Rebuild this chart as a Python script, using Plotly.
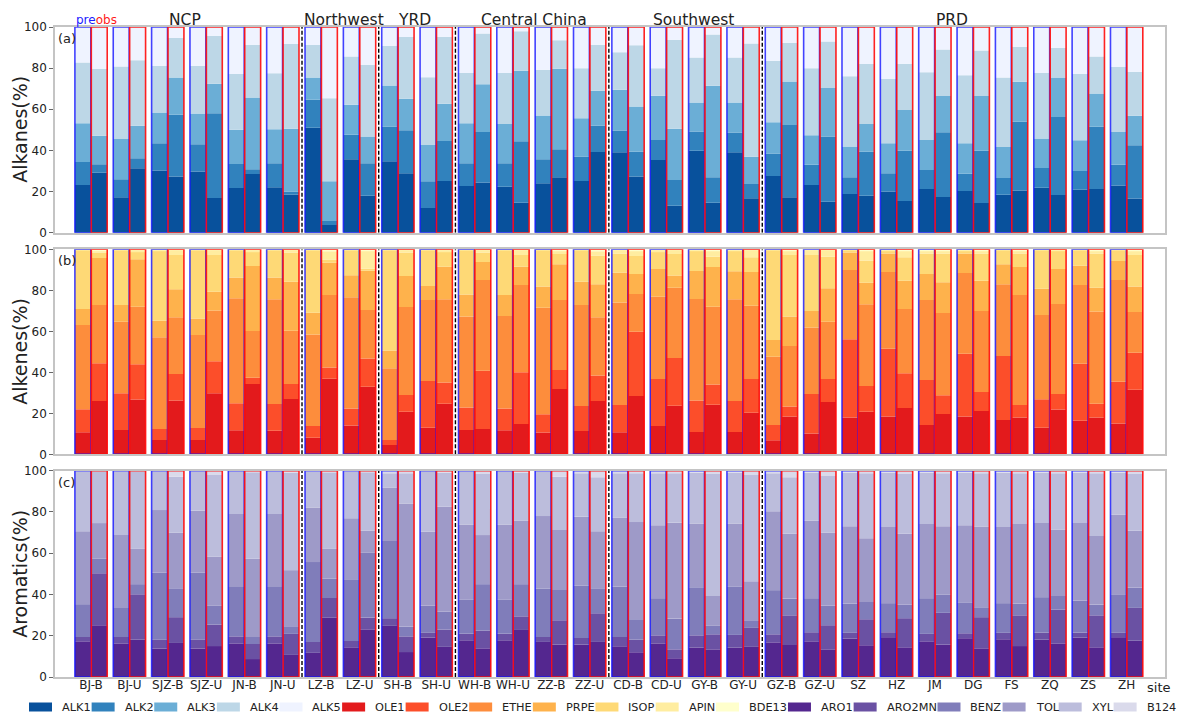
import plotly.graph_objects as go

# ---------------- data ----------------
sites = ["BJ-B", "BJ-U", "SJZ-B", "SJZ-U", "JN-B", "JN-U", "LZ-B", "LZ-U", "SH-B", "SH-U",
         "WH-B", "WH-U", "ZZ-B", "ZZ-U", "CD-B", "CD-U", "GY-B", "GY-U", "GZ-B", "GZ-U",
         "SZ", "HZ", "JM", "DG", "FS", "ZQ", "ZS", "ZH"]
regions = ["NCP", "Northwest", "YRD", "Central China", "Southwest", "PRD"]
region_center = [2.45, 6.6, 8.43, 11.55, 15.7, 22.45]
region_breaks = [5.5, 7.5, 9.5, 13.5, 17.5]

alk_names = ["ALK1", "ALK2", "ALK3", "ALK4", "ALK5"]
ole_names = ["OLE1", "OLE2", "ETHE", "PRPE", "ISOP", "APIN", "BDE13"]
aro_names = ["ARO1", "ARO2MN", "BENZ", "TOL", "XYL", "B124"]

# cumulative upper edge (%) of each species in the stacked bars; the last species fills to 100
# ---- Alkanes, pre
ALK1_pre = [23.2, 17.2, 30.2, 29.7, 21.8, 22.1, 51.0, 35.7, 34.7, 12.0, 22.7, 22.4, 24.0, 25.2,
            39.1, 35.4, 39.8, 39.1, 27.6, 23.2, 18.8, 20.0, 21.3, 20.3, 18.5, 21.9, 20.9, 22.9]
ALK2_pre = [34.4, 26.0, 43.5, 43.0, 33.4, 33.8, 64.6, 47.6, 51.6, 25.0, 33.8, 33.8, 35.7, 37.0,
            49.7, 45.1, 49.2, 48.7, 38.5, 33.0, 27.0, 28.9, 30.5, 28.7, 26.6, 31.5, 30.0, 33.0]
ALK3_pre = [53.2, 45.5, 58.4, 58.0, 50.0, 50.3, 75.5, 62.2, 71.6, 42.7, 53.2, 52.9, 57.0, 55.7,
            69.5, 66.6, 63.3, 63.3, 53.7, 47.4, 41.9, 43.5, 45.1, 43.5, 41.7, 45.8, 45.0, 49.0]
ALK4_pre = [82.8, 80.8, 81.2, 81.2, 77.2, 77.5, 91.2, 85.6, 90.9, 75.6, 77.6, 77.6, 79.2, 80.0,
            87.7, 80.0, 85.2, 85.2, 83.6, 79.9, 76.0, 74.8, 78.0, 76.5, 75.5, 77.6, 77.3, 80.5]
# ---- Alkanes, obs
ALK1_obs = [29.2, 31.3, 27.3, 16.9, 28.6, 18.5, 3.7, 18.0, 28.9, 25.2, 24.4, 14.6, 27.0, 39.3,
            27.3, 13.1, 14.6, 16.7, 17.2, 15.1, 18.0, 15.4, 17.4, 14.4, 20.5, 18.3, 21.3, 16.6]
ALK2_obs = [33.3, 36.2, 57.3, 58.1, 30.8, 20.0, 5.7, 33.8, 49.8, 44.6, 49.0, 44.5, 40.6, 52.0,
            39.4, 25.6, 27.0, 23.7, 52.4, 46.8, 39.4, 39.8, 48.9, 39.9, 53.9, 56.3, 51.5, 42.5]
ALK3_obs = [47.1, 52.0, 75.5, 72.4, 65.7, 50.6, 25.0, 46.8, 65.1, 62.7, 72.2, 78.7, 79.7, 69.0,
            61.4, 50.6, 71.4, 36.9, 73.5, 70.3, 52.9, 59.7, 66.4, 66.4, 73.4, 75.5, 67.7, 56.8]
ALK4_obs = [79.7, 83.8, 94.6, 95.8, 91.4, 91.7, 65.4, 81.6, 95.1, 95.3, 96.9, 97.9, 93.5, 91.4,
            91.1, 93.8, 96.3, 92.0, 92.3, 93.0, 82.0, 82.1, 89.1, 88.6, 90.4, 89.9, 85.6, 78.2]

# ---- Alkenes, pre
OLE1_pre = [10.7, 11.9, 7.0, 7.0, 11.7, 11.5, 8.1, 14.1, 4.6, 13.0, 11.9, 11.7, 10.6, 11.4,
            10.7, 13.8, 10.9, 10.9, 6.8, 10.1, 18.0, 18.4, 14.3, 18.4, 16.7, 13.0, 16.4, 15.0]
OLE2_pre = [22.0, 29.8, 12.4, 12.8, 24.9, 24.6, 13.8, 22.4, 7.0, 35.8, 22.8, 22.4, 19.5, 23.6,
            24.1, 36.7, 26.3, 26.0, 14.3, 29.4, 56.1, 51.5, 36.3, 49.0, 48.0, 26.8, 44.2, 35.4]
ETHE_pre = [63.1, 64.7, 57.1, 58.2, 76.1, 75.6, 58.5, 76.6, 42.0, 75.3, 67.2, 67.5, 71.5, 72.8,
            74.0, 76.9, 75.8, 75.6, 47.6, 61.8, 89.9, 88.9, 75.3, 88.5, 82.9, 68.0, 82.6, 85.0]
PRPE_pre = [70.9, 72.8, 65.2, 66.3, 86.3, 86.2, 69.1, 87.3, 50.6, 82.1, 78.0, 77.7, 81.8, 84.2,
            88.6, 90.4, 89.4, 89.3, 55.8, 69.9, 98.4, 98.0, 88.0, 98.0, 92.7, 80.8, 92.0, 94.3]
ISOP_pre = [99.6, 99.7, 99.5, 99.6, 99.7, 99.7, 99.7, 99.7, 99.7, 99.7, 99.7, 99.7, 99.7, 99.7,
            98.0, 98.9, 99.3, 99.3, 99.7, 97.2, 99.7, 99.3, 98.0, 99.3, 99.7, 99.7, 99.7, 99.7]
APIN_pre = [99.9, 99.9, 99.9, 99.9, 99.9, 99.9, 99.9, 99.9, 99.9, 99.9, 99.9, 99.9, 99.9, 99.9,
            99.6, 99.7, 99.8, 99.8, 99.9, 99.7, 99.9, 99.8, 99.5, 99.8, 99.9, 99.9, 99.9, 99.9]
# ---- Alkenes, obs
OLE1_obs = [26.0, 26.7, 26.3, 29.8, 34.3, 27.0, 36.9, 33.0, 20.8, 24.7, 12.4, 14.8, 31.9, 26.0,
            28.5, 23.7, 24.2, 20.3, 18.4, 25.5, 20.7, 22.6, 19.7, 21.1, 18.0, 21.8, 17.9, 31.5]
OLE2_obs = [44.4, 43.9, 39.2, 45.4, 37.4, 34.3, 42.3, 46.7, 28.9, 35.0, 40.7, 40.0, 41.1, 38.5,
            59.8, 47.0, 34.0, 36.7, 23.3, 36.7, 33.3, 39.5, 28.8, 30.4, 24.1, 29.4, 24.7, 49.6]
ETHE_obs = [72.8, 72.0, 66.8, 70.1, 60.2, 60.3, 77.7, 70.4, 71.9, 75.6, 85.0, 82.6, 75.3, 66.8,
            78.2, 81.3, 72.0, 72.5, 52.8, 64.6, 73.2, 70.9, 68.9, 69.9, 77.7, 73.3, 69.6, 69.4]
PRPE_obs = [95.8, 95.1, 80.5, 79.3, 91.9, 84.2, 93.5, 89.5, 87.0, 91.5, 93.8, 91.5, 92.7, 83.0,
            88.0, 87.2, 91.4, 88.9, 67.2, 81.0, 83.7, 84.6, 83.9, 84.7, 91.4, 90.4, 81.3, 81.8]
ISOP_obs = [98.4, 98.9, 97.2, 97.2, 98.9, 98.5, 95.0, 90.5, 98.5, 98.9, 98.4, 97.2, 97.7, 97.0,
            96.7, 97.7, 96.4, 96.1, 97.2, 96.4, 94.5, 96.1, 98.0, 98.0, 98.0, 99.3, 98.0, 97.2]
APIN_obs = [99.5, 99.7, 99.7, 99.7, 99.7, 99.6, 99.0, 99.5, 99.7, 99.7, 99.7, 99.7, 99.5, 99.0,
            99.5, 99.6, 99.5, 99.6, 99.5, 99.6, 99.5, 99.5, 99.5, 99.5, 99.5, 99.7, 99.5, 99.5]

# ---- Aromatics, pre
ARO1_pre = [17.3, 16.3, 13.8, 13.8, 16.3, 16.3, 11.7, 14.4, 24.8, 19.1, 17.8, 17.8, 17.0, 15.7,
            14.9, 16.3, 14.2, 14.2, 16.8, 17.3, 18.6, 19.3, 17.3, 18.8, 18.3, 18.1, 19.1, 19.3]
ARO2MN_pre = [19.4, 19.4, 18.1, 18.1, 19.7, 19.7, 17.0, 17.5, 28.5, 21.4, 21.0, 21.0, 19.4, 18.9,
              19.4, 20.2, 20.2, 20.4, 20.7, 21.7, 21.4, 21.7, 20.9, 21.2, 21.4, 21.5, 21.5, 21.4]
BENZ_pre = [35.3, 33.5, 50.5, 50.5, 44.0, 44.0, 55.7, 47.4, 65.9, 34.5, 37.5, 37.5, 42.9, 44.2,
            43.7, 38.2, 43.5, 43.9, 42.1, 38.2, 35.6, 35.8, 38.2, 36.2, 35.8, 38.7, 36.9, 40.1]
TOL_pre = [70.7, 68.8, 80.9, 80.6, 79.0, 79.0, 82.2, 77.0, 91.9, 70.4, 73.9, 73.9, 78.0, 77.7,
           77.3, 73.5, 74.4, 74.4, 80.3, 75.9, 73.1, 72.7, 74.1, 73.6, 72.7, 74.6, 74.6, 78.8]
XYL_pre = [99.8, 99.8, 99.8, 99.8, 99.8, 99.8, 99.6, 99.6, 98.7, 99.8, 99.8, 99.8, 99.6, 98.7,
           98.7, 98.7, 99.0, 99.0, 98.7, 99.0, 99.0, 99.0, 99.0, 99.0, 99.0, 99.0, 99.0, 99.0]
# ---- Aromatics, obs
ARO1_obs = [25.1, 18.1, 16.5, 15.0, 8.7, 10.7, 28.8, 23.1, 12.1, 14.6, 13.9, 22.8, 15.7, 17.0,
            12.0, 9.1, 13.4, 14.6, 15.5, 13.4, 15.4, 14.4, 15.7, 13.9, 15.0, 16.3, 14.4, 17.6]
ARO2MN_obs = [50.3, 40.1, 29.0, 25.4, 16.0, 20.9, 38.3, 28.8, 19.7, 23.0, 22.5, 29.4, 27.5, 30.9,
              18.1, 13.4, 20.7, 23.8, 29.9, 25.1, 28.0, 28.5, 31.1, 29.0, 29.9, 32.7, 29.9, 33.5]
BENZ_obs = [57.3, 45.0, 43.0, 34.5, 19.4, 24.6, 47.7, 60.2, 24.3, 31.6, 45.0, 45.0, 42.2, 43.0,
            28.0, 28.3, 24.8, 27.5, 38.0, 34.5, 36.4, 35.0, 40.0, 33.8, 35.6, 39.3, 35.1, 43.2]
TOL_obs = [74.6, 62.3, 69.9, 58.3, 57.3, 51.8, 62.3, 70.9, 84.1, 82.5, 68.8, 75.7, 71.2, 70.7,
           75.1, 74.8, 39.3, 46.4, 69.4, 70.1, 67.3, 69.4, 73.1, 73.0, 74.1, 71.5, 68.3, 70.9]
XYL_obs = [99.8, 99.8, 97.1, 97.9, 99.4, 99.0, 99.2, 99.5, 98.7, 99.0, 98.4, 99.0, 97.1, 96.8,
           98.7, 98.7, 98.4, 97.9, 96.8, 97.4, 98.7, 98.4, 98.7, 98.7, 98.7, 98.7, 98.7, 98.4]

# ---------------- styles ----------------
alk_colors = ["#08519c", "#3182bd", "#6baed6", "#bdd7e7", "#eff3ff"]
ole_colors = ["#e31a1c", "#fc4e2a", "#fd8d3c", "#feb24c", "#fed976", "#ffeda0", "#ffffcc"]
aro_colors = ["#54278f", "#6a51a3", "#807dba", "#9e9ac8", "#bcbddc", "#dadaeb"]

panels = [
    dict(names=alk_names, colors=alk_colors, title="Alkanes(%)", tag="(a)",
         pre=[ALK1_pre, ALK2_pre, ALK3_pre, ALK4_pre],
         obs=[ALK1_obs, ALK2_obs, ALK3_obs, ALK4_obs]),
    dict(names=ole_names, colors=ole_colors, title="Alkenes(%)", tag="(b)",
         pre=[OLE1_pre, OLE2_pre, ETHE_pre, PRPE_pre, ISOP_pre, APIN_pre],
         obs=[OLE1_obs, OLE2_obs, ETHE_obs, PRPE_obs, ISOP_obs, APIN_obs]),
    dict(names=aro_names, colors=aro_colors, title="Aromatics(%)", tag="(c)",
         pre=[ARO1_pre, ARO2MN_pre, BENZ_pre, TOL_pre, XYL_pre],
         obs=[ARO1_obs, ARO2MN_obs, BENZ_obs, TOL_obs, XYL_obs]),
]

# The page body has an 8px margin, so the figure sits at (8, 8) in the window.
OFFS = 8
W, H = 1188 - OFFS, 713 - OFFS
# target pixel positions (window coordinates) of the plotting area
LEFT, RIGHT, TOP, BOTTOM = 55, 1165, 27, 677
ML, MR, MT, MB = LEFT - OFFS, W - (RIGHT - OFFS), TOP - OFFS, H - (BOTTOM - OFFS)
PW, PH = W - ML - MR, H - MT - MB
domains = [[0.6835, 1.0], [0.3426, 0.658], [0.0, 0.3174]]
FONT = "DejaVu Sans"
BAR_W = 0.415
OFF = 0.214
kinds = [("pre", -OFF, "rgba(20,20,255,0.8)"), ("obs", OFF, "rgba(255,10,10,0.9)")]


def px2x(px):  # window px -> paper x
    return (px - LEFT) / PW


def py2y(py):  # window px -> paper y
    return (BOTTOM - py) / PH


fig = go.Figure()
n = len(sites)
idx = list(range(n))

for p, pan in enumerate(panels):
    ax = "" if p == 0 else str(p + 1)
    for kind, off, edge in kinds:
        cums = pan[kind]
        xs = [i + off for i in idx]
        for k, (name, color) in enumerate(zip(pan["names"], pan["colors"])):
            bottom = [0.0] * n if k == 0 else cums[k - 1]
            top = cums[k] if k < len(cums) else [100.0] * n
            share = [t - b for t, b in zip(top, bottom)]
            fig.add_trace(go.Bar(
                x=xs, y=share, base=bottom, width=BAR_W, name=name,
                marker=dict(color=color, line=dict(width=0)),
                customdata=[[s, kind] for s in sites],
                hovertemplate="%{customdata[0]} (%{customdata[1]})<br>" + name + ": %{y:.1f}%<extra></extra>",
                showlegend=False, xaxis="x" + ax, yaxis="y" + ax))
        # outline of whole bar
        fig.add_trace(go.Bar(
            x=xs, y=[100.0] * n, base=[0.0] * n, width=BAR_W,
            marker=dict(color="rgba(0,0,0,0)", line=dict(color=edge, width=1.6)),
            hoverinfo="skip", showlegend=False, xaxis="x" + ax, yaxis="y" + ax))

layout = dict(
    width=W, height=H, barmode="overlay",
    margin=dict(l=ML, r=MR, t=MT, b=MB),
    paper_bgcolor="white", plot_bgcolor="white",
    font=dict(family=FONT, size=12, color="#222222"),
    showlegend=False,
)
shapes = []
annotations = []
for p, pan in enumerate(panels):
    ax = "" if p == 0 else str(p + 1)
    layout["xaxis" + ax] = dict(
        domain=[0, 1], anchor="y" + ax, range=[-0.94, 28.0],
        showline=True, mirror=True, linecolor="#c4c4c4", linewidth=1.5,
        showgrid=False, zeroline=False, ticks="",
        tickvals=idx, ticktext=sites, showticklabels=(p == 2),
        tickfont=dict(size=12, color="#222222"), ticklabelstandoff=-4,
    )
    layout["yaxis" + ax] = dict(
        domain=domains[p], anchor="x" + ax, range=[0, 100],
        showline=True, mirror=True, linecolor="#c4c4c4", linewidth=1.5,
        showgrid=False, zeroline=False, ticks="outside", ticklen=4, tickwidth=1,
        tickcolor="#666666", tickvals=[0, 20, 40, 60, 80, 100],
        tickfont=dict(size=12, color="#222222"),
    )
    for b in region_breaks:
        shapes.append(dict(type="line", xref="x" + ax, yref="y" + ax, x0=b, x1=b, y0=0, y1=100,
                           line=dict(color="white", width=3.5)))
        shapes.append(dict(type="line", xref="x" + ax, yref="y" + ax, x0=b, x1=b, y0=0, y1=100,
                           line=dict(color="black", width=1.4, dash="4px,2px")))
    annotations.append(dict(text=pan["title"], xref="paper", yref="y" + ax + " domain",
                            x=px2x(20), y=0.5, textangle=-90, showarrow=False,
                            xanchor="center", yanchor="middle",
                            font=dict(size=19, color="#222222")))
    annotations.append(dict(text=pan["tag"], xref="x" + ax + " domain", yref="y" + ax + " domain",
                            x=0.001, y=0.99, showarrow=False, xanchor="left", yanchor="top",
                            font=dict(size=13, color="#222222")))

for name, c in zip(regions, region_center):
    annotations.append(dict(text=name, xref="x", yref="paper", x=c, y=py2y(19.5),
                            showarrow=False, xanchor="center", yanchor="middle",
                            font=dict(size=15.5, color="#222222")))
annotations.append(dict(text="<span style='color:#1a1aff'>pre</span><span style='color:#ff1a1a'>obs</span>",
                        xref="x", yref="paper", x=-0.45, y=py2y(20), showarrow=False,
                        xanchor="left", yanchor="middle", font=dict(size=12)))
annotations.append(dict(text="site", xref="paper", yref="paper", x=px2x(1158), y=py2y(687),
                        showarrow=False, xanchor="center", yanchor="middle",
                        font=dict(size=13, color="#222222")))

# ---------------- legend row (patch + label) ----------------
char_w = {"A": 684, "B": 686, "C": 698, "D": 770, "E": 632, "H": 752, "I": 295, "K": 656,
          "L": 557, "M": 863, "N": 748, "O": 787, "P": 603, "R": 695, "S": 635, "T": 611,
          "X": 685, "Y": 611, "Z": 685}
LEG_FS = 11.3
all_names = alk_names + ole_names + aro_names
all_colors = alk_colors + ole_colors + aro_colors
xpos = 29.0
LEG_Y = 707
for name, color in zip(all_names, all_colors):
    tw = sum(char_w.get(ch, 636) for ch in name) / 1000.0 * LEG_FS
    shapes.append(dict(type="rect", xref="paper", yref="paper",
                       x0=px2x(xpos), x1=px2x(xpos + 23), y0=py2y(LEG_Y + 4.5), y1=py2y(LEG_Y - 4.5),
                       fillcolor=color, line=dict(width=0), layer="above"))
    annotations.append(dict(text=name, xref="paper", yref="paper", x=px2x(xpos + 31), y=py2y(LEG_Y),
                            showarrow=False, xanchor="left", yanchor="middle",
                            font=dict(size=LEG_FS, color="#222222")))
    xpos += 23 + 9 + tw + 2

layout["shapes"] = shapes
layout["annotations"] = annotations
fig.update_layout(**layout)
fig.write_html("out.html")
